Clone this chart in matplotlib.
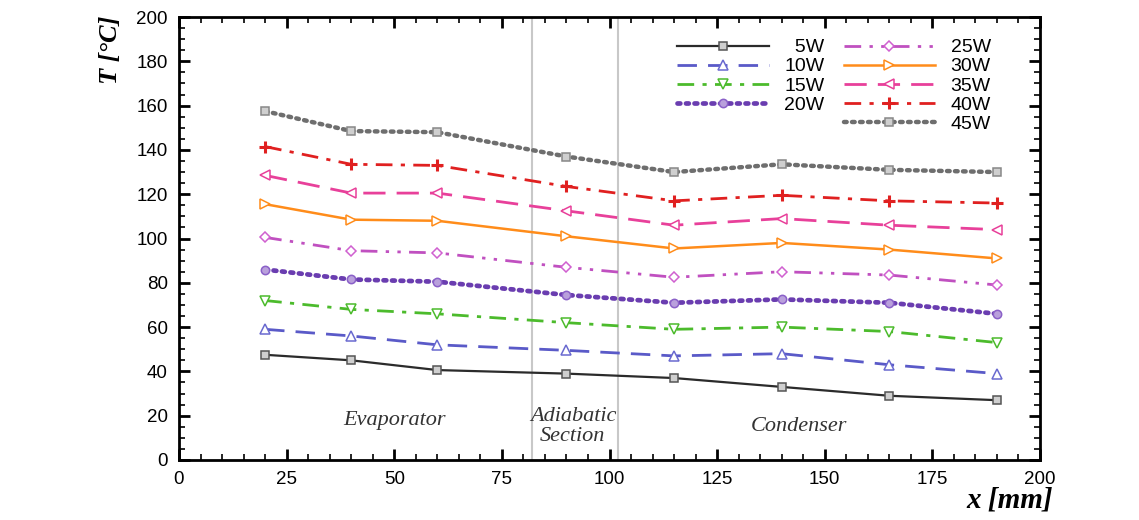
import matplotlib
matplotlib.use("Agg")
import matplotlib.pyplot as plt
from matplotlib.ticker import MultipleLocator
from matplotlib.lines import Line2D

x_mm = [20, 40, 60, 90, 115, 140, 165, 190]
series_labels = ["5W", "10W", "15W", "20W", "25W", "30W", "35W", "40W", "45W"]
T_5W = [47.5, 45, 40.6, 39, 37, 33, 29, 27]
T_10W = [59, 56, 52, 49.5, 47, 48, 43, 39]
T_15W = [72, 68, 66, 62, 59, 60, 58, 53]
T_20W = [86, 81.5, 80.5, 74.5, 71, 72.5, 71, 66]
T_25W = [100.5, 94.5, 93.5, 87, 82.5, 85, 83.5, 79]
T_30W = [115.5, 108.5, 108, 101, 95.5, 98, 95, 91]
T_35W = [128.5, 120.5, 120.5, 112.5, 106, 109, 106, 104]
T_40W = [141.5, 133.5, 133, 123.5, 117, 119.5, 117, 116]
T_45W = [157.5, 148.5, 148, 137, 130, 133.5, 131, 130]
series_values = [T_5W, T_10W, T_15W, T_20W, T_25W, T_30W, T_35W, T_40W, T_45W]

styles = [
    dict(color="#2b2b2b", ls="-", lw=1.6, marker="s", mfc="#cfcfcf", mec="#555555", ms=6, mew=1.1),
    dict(color="#5a5ac8", ls=(0, (7, 4)), lw=2.0, marker="^", mfc="white", mec="#6a6ad0", ms=6.5, mew=1.1),
    dict(color="#4cbb2c", ls=(0, (6, 3, 1.5, 3)), lw=2.0, marker="v", mfc="white", mec="#4cbb2c", ms=6.5, mew=1.1),
    dict(color="#6a3db0", ls=(0, (0.6, 1.2)), lw=3.4, dash_capstyle="round", marker="o", mfc="#b9a0dc", mec="#8a60c8", ms=6, mew=1.1),
    dict(color="#c050c0", ls=(0, (6, 3, 1.2, 3, 1.2, 3)), lw=2.0, marker="D", mfc="white", mec="#d060d0", ms=5.5, mew=1.1),
    dict(color="#ff8c1a", ls="-", lw=1.8, marker=">", mfc="white", mec="#ff8c1a", ms=6.5, mew=1.1),
    dict(color="#e8409a", ls=(0, (8, 4)), lw=2.0, marker="<", mfc="white", mec="#e8409a", ms=6.5, mew=1.1),
    dict(color="#e02020", ls=(0, (6, 3, 1.5, 3)), lw=2.0, marker="+", mfc="none", mec="#e02020", ms=8.5, mew=2.2),
    dict(color="#6e6e6e", ls=(0, (0.6, 1.2)), lw=3.2, dash_capstyle="round", marker="s", mfc="#cfcfcf", mec="#888888", ms=6, mew=1.1),
]

fig = plt.figure(figsize=(11.39, 5.2), dpi=100)
ax = fig.add_axes([179/1139, 1 - 460/520, (1040 - 179)/1139, (460 - 17)/520])

ax.axvline(82, color="#c8c8c8", lw=1.5, zorder=0)
ax.axvline(102, color="#c8c8c8", lw=1.5, zorder=0)

handles = []
for lab, vals, st in zip(series_labels, series_values, styles):
    h, = ax.plot(x_mm, vals, label=lab, **st)
    handles.append(h)

ax.set_xlim(0, 200)
ax.set_ylim(0, 200)
ax.xaxis.set_major_locator(MultipleLocator(25))
ax.xaxis.set_minor_locator(MultipleLocator(5))
ax.yaxis.set_major_locator(MultipleLocator(20))
ax.yaxis.set_minor_locator(MultipleLocator(5))
ax.tick_params(which="both", direction="in", top=True, right=True, labelsize=13.5, pad=8)
ax.tick_params(which="major", length=8, width=2)
ax.tick_params(which="minor", length=4, width=1.2)
for s in ax.spines.values():
    s.set_linewidth(2)
for t in ax.get_xticklabels() + ax.get_yticklabels():
    t.set_fontfamily("Liberation Sans")

serif = "Liberation Serif"
fig.text(110/1139, 1 - 50/520, "T [°C]", rotation=90, ha="center", va="center",
         fontsize=19, family=serif, fontweight="bold", fontstyle="italic")
fig.text(1010/1139, 1 - 500/520, "x [mm]", ha="center", va="center",
         fontsize=21, family=serif, fontweight="bold", fontstyle="italic")

ax.text(50, 18, "Evaporator", ha="center", va="center", fontsize=16, family=serif, style="italic", color="#333333")
ax.text(91.5, 15, "Adiabatic\nSection", ha="center", va="center", fontsize=16, family=serif, style="italic",
        color="#333333", linespacing=1.05)
ax.text(144, 15, "Condenser", ha="center", va="center", fontsize=16, family=serif, style="italic", color="#333333")

blank = Line2D([], [], color="none")
leg_handles = handles[:4] + [blank] + handles[4:]
leg_labels = ["\u2007" + series_labels[0]] + series_labels[1:4] + [""] + series_labels[4:]
leg = ax.legend(leg_handles, leg_labels, loc="upper right", ncol=2, frameon=False,
                handlelength=4.7, handletextpad=0.8, columnspacing=1.0, labelspacing=0.08,
                borderaxespad=0.0, borderpad=0.0,
                bbox_to_anchor=(0.943, 0.951), prop={"family": "Liberation Sans", "size": 14})

fig.savefig("out.png", dpi=100)
